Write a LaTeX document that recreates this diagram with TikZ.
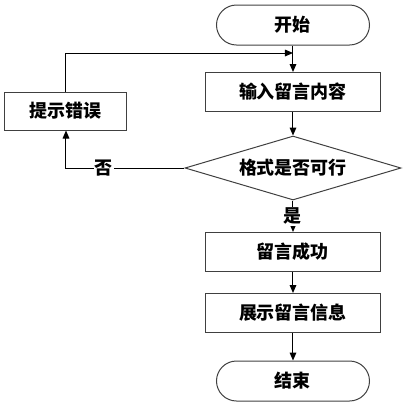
\documentclass[tikz,border=0pt]{standalone}
\usepackage{fontspec}
\newfontfamily\cjk{Noto Sans CJK SC}
\usetikzlibrary{arrows.meta,positioning,shapes.geometric}

\begin{document}
\begin{tikzpicture}[>={Triangle[length=6pt,width=5pt]}, x=0.75pt, y=-0.75pt, font=\cjk\bfseries\fontsize{13.5}{16}\selectfont]
		\tikzset{
			terminal/.style={draw=black!75, line width=0.75pt, rounded corners=15pt, minimum width=114.75pt, minimum height=30pt},
			process/.style={draw=black!75, line width=0.75pt, minimum width=131.25pt, minimum height=29.25pt},
			decision/.style={draw=black!75, line width=0.75pt, diamond, aspect=3.375, inner sep=0pt, minimum width=162pt, minimum height=48pt},
			flow/.style={->, line width=0.75pt},
			answer/.style={fill=white, inner sep=1pt}
		}
		\useasboundingbox (0,0) rectangle (412,412);
		
		% Main column of the flow
		\node[terminal] (Start) at (293,25) {开始};
		\node[process] (Input) at (293,92) {输入留言内容};
		\node[decision] (Check) at (293,168) {格式是否可行};
		\node[process] (Saved) at (293,252) {留言成功};
		\node[process] (Show) at (293,313) {展示留言信息};
		\node[terminal] (End) at (293,381) {结束};
		
		% Error branch
		\node[process, minimum width=91.5pt, minimum height=28.5pt] (Error) at (66,111) {提示错误};
		\coordinate (Join) at (293,53);
		
		% Connectors
		\draw[flow] (Start) -- (Input);
		\draw[flow] (Input) -- (Check);
		\draw[flow] (Check) -- node[answer] {是} (Saved);
		\draw[flow] (Saved) -- (Show);
		\draw[flow] (Show) -- (End);
		\draw[flow] (Check.west) -| node[answer, pos=0.34] {否} (Error.south);
		\draw[flow] (Error.north) |- (Join);
	\end{tikzpicture}
\end{document}
